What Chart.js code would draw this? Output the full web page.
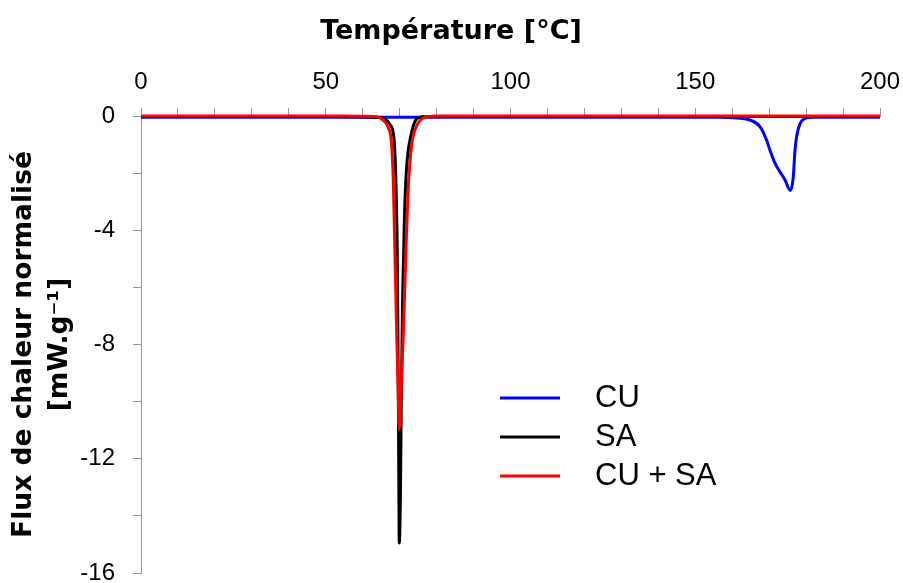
<!DOCTYPE html>
<html>
<head>
<meta charset="utf-8">
<title>Flux de chaleur normalisé</title>
<script src="https://cdn.jsdelivr.net/npm/chart.js@4.4.1/dist/chart.umd.min.js"></script>
<style>
    html, body { margin: 0; padding: 0; background: #ffffff; }
    #wrap { width: 903px; height: 583px; }
</style>
</head>
<body>
<div id="wrap"><canvas id="dscChart" width="903" height="583"></canvas></div>
<script>
const cuTemp = [0, 20, 40, 60, 80, 100, 120, 140, 150, 155, 160.3, 164.8, 167.5, 169.3, 170.2, 171.6, 172.9, 174.3, 175.7, 176.5, 177.0, 177.5, 178.4, 179.7, 182, 190, 200];
const cuFlux = [-0.04, -0.04, -0.04, -0.04, -0.04, -0.04, -0.04, -0.04, -0.04, -0.045, -0.06, -0.14, -0.37, -0.84, -1.19, -1.66, -1.95, -2.24, -2.61, -2.18, -1.19, -0.67, -0.26, -0.08, -0.04, -0.04, -0.04];

const saTemp = [0, 20, 40, 55, 60, 63.8, 65.6, 67.4, 68.5, 69.0, 69.4, 69.65, 69.8, 69.9, 70.2, 70.45, 70.8, 71.3, 71.9, 73.0, 74.6, 76, 80, 100, 150, 200];
const saFlux = [-0.02, -0.02, -0.02, -0.02, -0.03, -0.05, -0.08, -0.3, -0.84, -2.35, -5.3, -9.9, -13.4, -14.95, -13.4, -9.9, -6.4, -3.5, -1.77, -0.72, -0.1, -0.03, -0.02, -0.02, -0.02, -0.02];

const mixTemp = [0, 20, 40, 55, 60, 63.5, 65.1, 66.9, 67.8, 68.3, 68.7, 69.2, 69.65, 69.9, 70.3, 71.0, 71.7, 72.4, 73.3, 74.4, 76.0, 77.8, 80, 100, 150, 200];
const mixFlux = [0, 0, 0, 0, -0.01, -0.02, -0.1, -0.4, -0.96, -2.36, -4.7, -7.6, -9.9, -10.95, -9.9, -7.6, -4.7, -2.36, -0.96, -0.4, -0.1, -0.02, 0, 0, 0, 0];

const seriesLabels = ['CU', 'SA', 'CU + SA'];
const seriesColors = ['#0000ff', '#000000', '#ff0000'];

const xTickLabels = [0, 50, 100, 150, 200];
const yTickLabels = [0, -4, -8, -12, -16];

function toPoints(temps, flux) {
    return temps.map((t, i) => ({ x: t, y: flux[i] }));
}

const AXIS_GREY = '#969696';
const TITLE_SIZE = 27;
const TITLE_PAD = 16;

// légende dessinée dans la zone du graphique
const legendeInterne = {
    id: 'legendeInterne',
    afterDraw(chart) {
        const ctx = chart.ctx;
        ctx.save();
        ctx.font = '31px "Liberation Sans", Arial, sans-serif';
        ctx.textBaseline = 'middle';
        ctx.textAlign = 'left';
        chart.data.datasets.forEach((ds, i) => {
            const y = 398 + i * 39;
            ctx.strokeStyle = ds.borderColor;
            ctx.lineWidth = 3;
            ctx.beginPath();
            ctx.moveTo(500, y);
            ctx.lineTo(560, y);
            ctx.stroke();
            ctx.fillStyle = '#000000';
            ctx.fillText(ds.label, 595, y);
        });
        ctx.restore();
    }
};

document.addEventListener('DOMContentLoaded', function () {
    const ctx = document.getElementById('dscChart').getContext('2d');
    const seriesData = [toPoints(cuTemp, cuFlux), toPoints(saTemp, saFlux), toPoints(mixTemp, mixFlux)];

    new Chart(ctx, {
        type: 'line',
        data: {
            datasets: seriesData.map((pts, i) => ({
                label: seriesLabels[i],
                data: pts,
                borderColor: seriesColors[i],
                backgroundColor: seriesColors[i],
                borderWidth: 3,
                pointRadius: 0,
                fill: false,
                cubicInterpolationMode: 'monotone',
                clip: false,
                order: 3 - i
            }))
        },
        options: {
            responsive: false,
            animation: false,
            layout: { padding: { left: 22, right: 23, top: 0, bottom: 10 } },
            plugins: {
                legend: { display: false },
                tooltip: { enabled: false },
                title: {
                    display: true,
                    text: 'Température [°C]',
                    color: '#000000',
                    font: { family: 'DejaVu Sans', size: TITLE_SIZE, weight: 'bold', lineHeight: 1.2 },
                    padding: { top: TITLE_PAD, bottom: 0 }
                }
            },
            scales: {
                x: {
                    type: 'linear',
                    position: 'top',
                    min: 0,
                    max: 200,
                    ticks: {
                        stepSize: 10,
                        autoSkip: false,
                        maxRotation: 0,
                        padding: 11,
                        color: '#000000',
                        font: { family: 'Liberation Sans', size: 24 },
                        callback: (v) => xTickLabels.includes(v) ? String(v) : ''
                    },
                    grid: { drawOnChartArea: false, drawTicks: true, tickLength: 8, color: AXIS_GREY },
                    border: { color: AXIS_GREY, width: 1 },
                    afterFit: (scale) => {
                        scale.height = 116 - (TITLE_PAD + TITLE_SIZE * 1.2);
                        scale.paddingLeft = 0;
                        scale.paddingRight = 0;
                    }
                },
                y: {
                    min: -16,
                    max: 0,
                    ticks: {
                        stepSize: 2,
                        autoSkip: false,
                        padding: 18,
                        color: '#000000',
                        font: { family: 'Liberation Sans', size: 24 },
                        callback: (v) => yTickLabels.includes(v) ? String(v) : ''
                    },
                    grid: { drawOnChartArea: false, drawTicks: true, tickLength: 8, color: AXIS_GREY },
                    border: { color: AXIS_GREY, width: 1 },
                    title: {
                        display: true,
                        text: ['Flux de chaleur normalisé', '[mW.g⁻¹]'],
                        color: '#000000',
                        font: { family: 'DejaVu Sans', size: 26.5, weight: 'bold', lineHeight: 1.35 },
                        padding: { top: -16, bottom: 0 }
                    },
                    afterFit: (scale) => {
                        scale.width = 119;
                        scale.paddingTop = 0;
                        scale.paddingBottom = 0;
                    }
                }
            }
        },
        plugins: [legendeInterne]
    });
});
</script>
</body>
</html>
